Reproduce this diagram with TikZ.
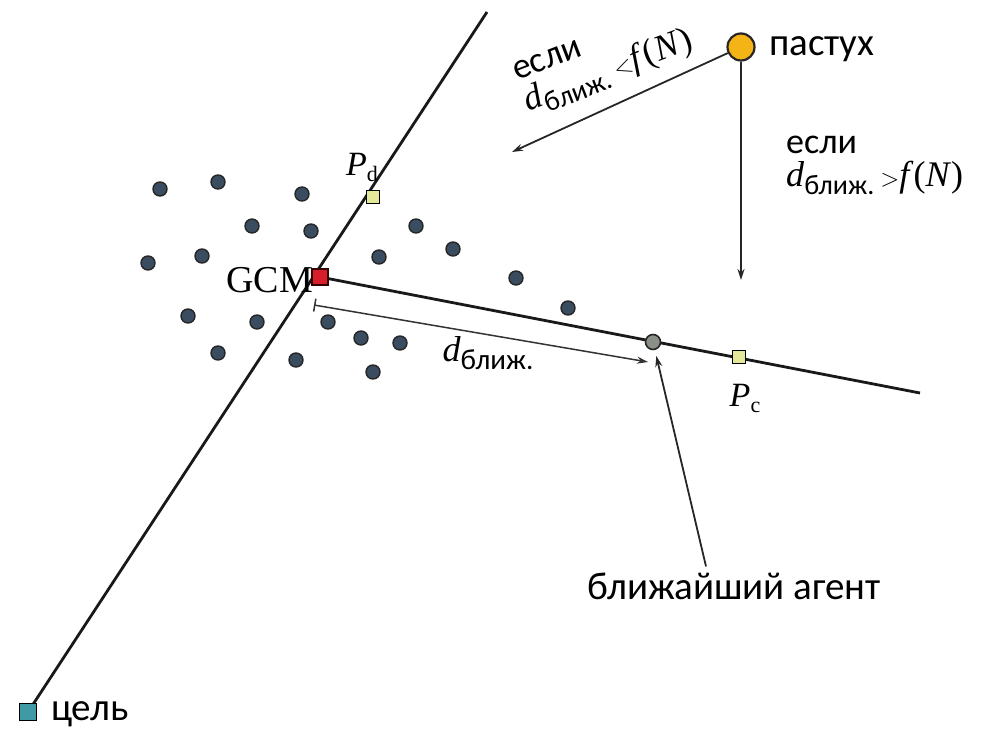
\documentclass[tikz,border=0pt]{standalone}
\usepackage{fontspec}
\setmainfont{Liberation Serif}
\newfontfamily\rus{Carlito}
\usetikzlibrary{arrows.meta}
\definecolor{dotfill}{HTML}{3A4D60}
\definecolor{herdfill}{HTML}{F5B416}
\definecolor{goalfill}{HTML}{3F9AA5}
\definecolor{gcmfill}{HTML}{D81E2A}
\definecolor{pfill}{HTML}{E4E89A}
\definecolor{nearfill}{HTML}{8A9088}
\tikzset{
  agentdot/.style={circle, draw=black!85, fill=dotfill, line width=1.4pt, minimum size=14pt, inner sep=0pt},
  marksq/.style={rectangle, draw=black, fill=pfill, line width=1.4pt, minimum size=13pt, inner sep=0pt},
  mainline/.style={line width=2.8pt, black!90},
  arr/.style={line width=1.8pt, black!85, -{Stealth[length=11pt,width=7pt]}},
  rustext/.style={font=\rus\fontsize{39}{41}\selectfont, inner sep=0pt},
  condtext/.style={font=\fontsize{36}{33}\selectfont, inner sep=0pt, align=left},
}
\begin{document}
\begin{tikzpicture}[x=1pt,y=-1pt]
\useasboundingbox (0,0) rectangle (996,731);
% positions
\coordinate (goalpos) at (28,712);
\coordinate (lineTop) at (487,12);
\coordinate (gcmpos) at (320,277);
\coordinate (lineEnd) at (920,393);
\coordinate (nearpos) at (653,342);
\coordinate (pcpos) at (739,357);
\coordinate (pdpos) at (373,197);
\coordinate (herdpos) at (741,47);
% lines
\draw[mainline] (goalpos) -- (lineTop);
\draw[mainline] (gcmpos) -- (lineEnd);
% agents
\foreach \i/\x/\y in {1/160/189, 2/218/182, 3/302/194, 4/252/226, 5/311/231, 6/148/263, 7/202/256, 8/379/257, 9/416/226, 10/453/249, 11/516/278, 12/568/308, 13/188/316, 14/257/322, 15/328/322, 16/361/338, 17/400/343, 18/218/353, 19/296/360, 20/373/372}
  \node[agentdot] (a\i) at (\x,\y) {};
% special markers
\node[rectangle, draw=black!80!red, fill=gcmfill, line width=1.2pt, minimum size=16pt, inner sep=0pt] (gcm) at (gcmpos) {};
\node[marksq] (pd) at (pdpos) {};
\node[marksq] (pc) at (pcpos) {};
\node[circle, draw=black!85, fill=nearfill, line width=1.6pt, minimum size=15pt, inner sep=0pt] (near) at (nearpos) {};
\node[circle, draw=black!85, fill=herdfill, line width=2.2pt, minimum size=27pt, inner sep=0pt] (herd) at (herdpos) {};
\node[rectangle, draw=black, fill=goalfill, line width=1.6pt, minimum size=17pt, inner sep=0pt] (goal) at (goalpos) {};
% labels
\node[rustext, anchor=west] (herdlab) at (769,49) {пастух};
\node[rustext, anchor=west] (goallab) at (51,714) {цель};
\node[rustext] (nearlab) at (734,586) {ближайший агент};
\node[font=\fontsize{38}{40}\selectfont, inner sep=0pt, anchor=east] (gcmlab) at (313,280) {GCM};
\node[inner sep=0pt] (pdlab) at (362,167) {\fontsize{34}{36}\selectfont\textit{P}\raisebox{-6pt}{\fontsize{22}{24}\selectfont d}};
\node[inner sep=0pt] (pclab) at (745,398) {\fontsize{34}{36}\selectfont\textit{P}\raisebox{-6pt}{\fontsize{22}{24}\selectfont c}};
\node[inner sep=0pt] (dlab) at (488,353) {\fontsize{36}{38}\selectfont\textit{d}\raisebox{-8pt}{\rus\fontsize{29}{30}\selectfont ближ.}};
% herder arrows
\coordinate (downEnd) at (741,280);
\coordinate (leftEnd) at (512,152);
\draw[arr] (herd) -- (downEnd);
\draw[arr] (herd) -- (leftEnd);
\node[condtext, rotate=21] (condless) at (604,60)
  {{\rus\fontsize{36}{36}\selectfont если}\\
   \textit{d}\raisebox{-8pt}{\rus\fontsize{28}{28}\selectfont ближ.}\,$<$\textit{f}(\textit{N})};
\node[condtext, anchor=north west] (condmore) at (786,136)
  {{\rus\fontsize{36}{36}\selectfont если}\\
   \textit{d}\raisebox{-8pt}{\rus\fontsize{28}{28}\selectfont ближ.}\,$>$\textit{f}(\textit{N})};
% distance arrow
\coordinate (dimStart) at (314,305);
\coordinate (dimEnd) at (648,362);
\draw[line width=1.5pt, black!80, {Bar[width=13pt]}-{Stealth[length=11pt,width=7pt]}] (dimStart) -- (dimEnd);
% nearest agent pointer
\draw[arr, shorten >=6pt] (nearlab.north) ++(-28,-6) coordinate (ptrStart) -- (near);
\end{tikzpicture}
\end{document}
